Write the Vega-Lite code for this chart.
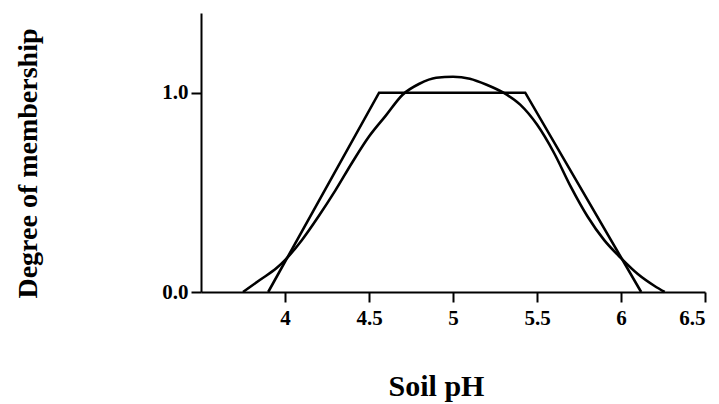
{
  "$schema": "https://vega.github.io/schema/vega-lite/v6.json",
  "autosize": "none",
  "width": 504,
  "height": 279,
  "padding": {"left": 201, "top": 13, "right": 14, "bottom": 112},
  "background": "white",
  "config": {
    "view": {"stroke": null},
    "font": "Liberation Serif",
    "axis": {
      "grid": false,
      "domainColor": "black",
      "domainWidth": 2,
      "tickColor": "black",
      "tickWidth": 2,
      "tickSize": 10,
      "labelColor": "black",
      "labelFont": "Liberation Serif",
      "labelFontWeight": "bold",
      "labelFontSize": 21,
      "titleColor": "black",
      "titleFont": "Liberation Serif",
      "titleFontWeight": "bold"
    }
  },
  "datasets": {
    "trap": [
      {"ph": 3.9, "m": 0},
      {"ph": 4.56, "m": 1.0},
      {"ph": 5.43, "m": 1.0},
      {"ph": 6.12, "m": 0}
    ],
    "smooth": [
      {"ph": 3.75, "m": 0},
      {"ph": 3.85, "m": 0.06},
      {"ph": 3.95, "m": 0.12},
      {"ph": 4.0, "m": 0.16},
      {"ph": 4.1, "m": 0.26},
      {"ph": 4.2, "m": 0.38},
      {"ph": 4.3, "m": 0.51},
      {"ph": 4.4, "m": 0.65},
      {"ph": 4.5, "m": 0.78},
      {"ph": 4.6, "m": 0.885},
      {"ph": 4.7, "m": 0.99},
      {"ph": 4.8, "m": 1.045},
      {"ph": 4.9, "m": 1.075},
      {"ph": 5.0, "m": 1.08},
      {"ph": 5.1, "m": 1.07},
      {"ph": 5.2, "m": 1.04},
      {"ph": 5.3, "m": 1.0},
      {"ph": 5.4, "m": 0.94},
      {"ph": 5.5, "m": 0.84},
      {"ph": 5.6, "m": 0.7},
      {"ph": 5.7, "m": 0.53},
      {"ph": 5.8, "m": 0.38},
      {"ph": 5.9, "m": 0.26},
      {"ph": 6.0, "m": 0.17},
      {"ph": 6.1, "m": 0.09},
      {"ph": 6.2, "m": 0.03},
      {"ph": 6.26, "m": 0}
    ]
  },
  "layer": [
    {
      "data": {"name": "trap"},
      "mark": {"type": "line", "color": "black", "strokeWidth": 2.6, "strokeJoin": "miter"},
      "encoding": {
        "x": {
          "field": "ph", "type": "quantitative",
          "scale": {"domain": [3.5, 6.5], "nice": false, "zero": false},
          "axis": {
            "values": [4, 4.5, 5, 5.5, 6, 6.5],
            "format": "~g",
            "labelPadding": 5,
            "title": "Soil pH",
            "titleFontSize": 30,
            "titleX": 235,
            "titleY": 94,
            "titleAlign": "center",
            "titleBaseline": "middle"
          }
        },
        "y": {
          "field": "m", "type": "quantitative",
          "scale": {"domain": [0, 1.4], "nice": false},
          "axis": {
            "values": [0, 1],
            "format": ".1f",
            "labelPadding": 3,
            "title": "Degree of membership",
            "titleFontSize": 28,
            "titleX": -173,
            "titleY": 150,
            "titleAngle": 270,
            "titleAlign": "center",
            "titleBaseline": "middle"
          }
        }
      }
    },
    {
      "data": {"name": "smooth"},
      "mark": {"type": "line", "color": "black", "strokeWidth": 2.6, "interpolate": "monotone"},
      "encoding": {
        "x": {"field": "ph", "type": "quantitative"},
        "y": {"field": "m", "type": "quantitative"}
      }
    }
  ]
}
